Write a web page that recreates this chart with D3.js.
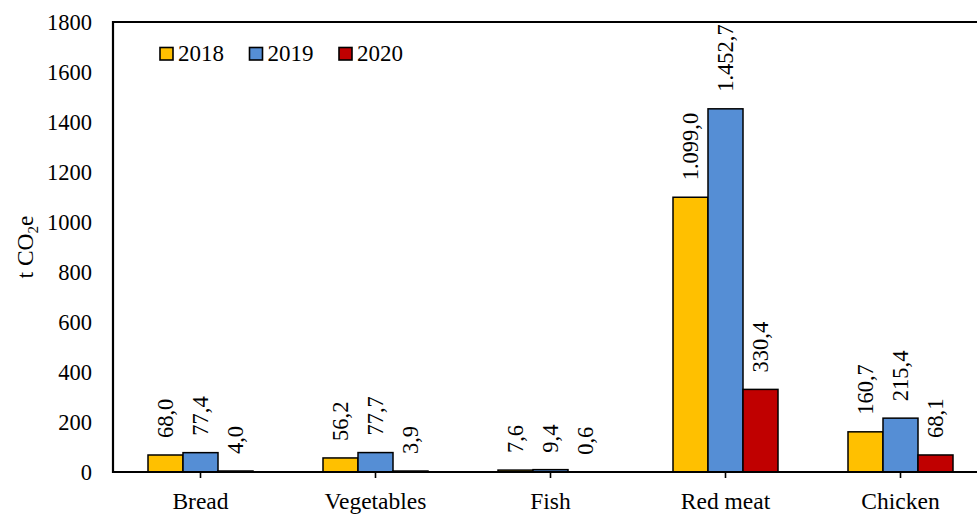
<!DOCTYPE html>
<html><head><meta charset="utf-8">
<script src="https://cdn.jsdelivr.net/npm/d3@7"></script>
<style>html,body{margin:0;padding:0;background:#fff;overflow:hidden}
svg text{font-family:"Liberation Serif","Times New Roman",Times,"DejaVu Serif",serif !important;}</style>
</head><body>
<svg id="chart" width="977" height="516"></svg>
<script>
const categories = ["Bread", "Vegetables", "Fish", "Red meat", "Chicken"];
const seriesNames = ["2018", "2019", "2020"];
const values2018 = [68.0, 56.2, 7.6, 1099.0, 160.7];
const values2019 = [77.4, 77.7, 9.4, 1452.7, 215.4];
const values2020 = [4.0, 3.9, 0.6, 330.4, 68.1];
const yTicks = [0, 200, 400, 600, 800, 1000, 1200, 1400, 1600, 1800];
const colors = ["#FFC000", "#558ED5", "#C00000"];

(function () {
const series = [values2018, values2019, values2020];
const svg = d3.select("#chart");
const fs = 22.5;
const pL = 113, pR = 988, pT = 22, pB = 472;

svg.append("defs").append("clipPath").attr("id", "plotclip")
  .append("rect").attr("x", pL).attr("y", pT).attr("width", 977 - pL).attr("height", pB - pT + 10);

const x = d3.scaleBand().domain(categories).range([pL, pR]).paddingInner(0.4).paddingOuter(0.2);
const xs = d3.scaleBand().domain(seriesNames).range([0, x.bandwidth()]);
const y = d3.scaleLinear().domain([0, 1800]).range([pB, pT]);
const loc = d3.formatLocale({decimal: ",", thousands: ".", grouping: [3], currency: ["", ""]});
const fmt = loc.format(",.1f");

const plot = svg.append("g").attr("clip-path", "url(#plotclip)");
// bars
categories.forEach((c, i) => {
  seriesNames.forEach((s, j) => {
    const v = series[j][i];
    const bx = x(c) + xs(s);
    plot.append("rect")
      .attr("x", bx).attr("y", y(v))
      .attr("width", xs.bandwidth()).attr("height", y(0) - y(v))
      .attr("fill", colors[j]).attr("stroke", "#000").attr("stroke-width", 1.5);
    const lx = bx + xs.bandwidth() / 2, ly = y(v) - 17;
    plot.append("text")
      .attr("transform", `translate(${lx},${ly}) rotate(-90)`)
      .attr("dy", "0.35em")
      .attr("font-size", fs)
      .attr("text-anchor", "start")
      .text(fmt(v));
  });
});

// axes lines
svg.append("line").attr("x1", pL).attr("x2", 977).attr("y1", pT).attr("y2", pT)
  .attr("stroke", "#000").attr("stroke-width", 2.2);
svg.append("line").attr("x1", pL).attr("x2", pL).attr("y1", pT - 1).attr("y2", pB + 1)
  .attr("stroke", "#000").attr("stroke-width", 2.2);

const xAxis = svg.append("g").attr("transform", `translate(0,${pB})`)
  .call(d3.axisBottom(x).tickSize(6).tickPadding(14));
xAxis.select(".domain").attr("stroke-width", 2.2).attr("d", `M${pL},0H977`);
xAxis.selectAll(".tick line").attr("stroke-width", 1.6);
xAxis.selectAll("text").attr("font-size", 23.5).attr("fill", "#000");

const yAxis = svg.append("g").attr("transform", `translate(${pL},0)`)
  .call(d3.axisLeft(y).tickValues(yTicks).tickSize(0).tickPadding(21).tickFormat(d3.format("d")));
yAxis.select(".domain").remove();
yAxis.selectAll("text").attr("font-size", fs).attr("fill", "#000");

// y title
const yt = svg.append("text")
  .attr("transform", `translate(33,${(pT + pB) / 2}) rotate(-90)`)
  .attr("text-anchor", "middle")
  .attr("font-size", 23.5);
yt.append("tspan").text("t CO");
yt.append("tspan").attr("font-size", 15).attr("dy", 5).text("2");
yt.append("tspan").attr("dy", -5).text("e");

// legend
const lg = d3.scalePoint().domain(seriesNames).range([160, 339]);
seriesNames.forEach((s, j) => {
  svg.append("rect").attr("x", lg(s)).attr("y", 47.5).attr("width", 13).attr("height", 12.5)
    .attr("fill", colors[j]).attr("stroke", "#000").attr("stroke-width", 1.6);
  svg.append("text").attr("x", lg(s) + 18).attr("y", 61)
    .attr("font-size", 23).text(s);
});
})();
</script>
</body></html>
